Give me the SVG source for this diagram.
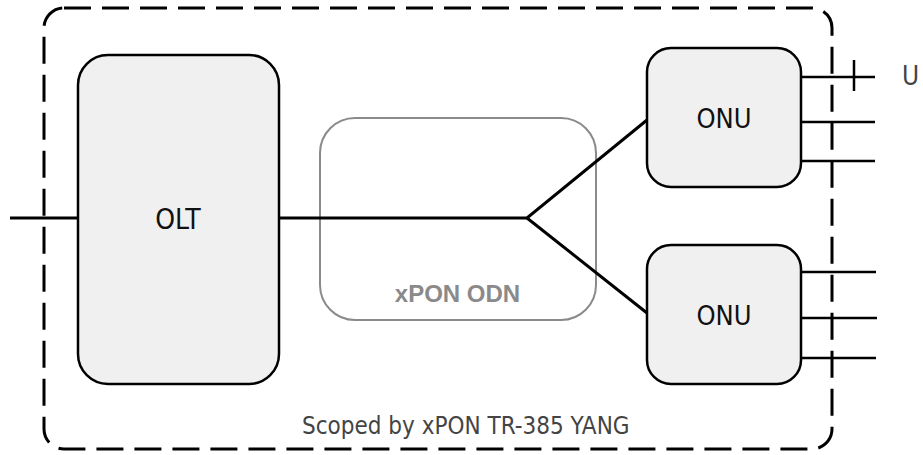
<svg xmlns="http://www.w3.org/2000/svg" width="923" height="455" viewBox="0 0 923 455">
<style>
.box{fill:#f0f0f0;stroke:#000;stroke-width:2.5}
.odn{fill:none;stroke:#8a8a8a;stroke-width:2}
.scope{fill:none;stroke:#000;stroke-width:3;stroke-dasharray:27 11}
.link{stroke:#000;stroke-width:3;fill:none}
.port{stroke:#000;stroke-width:2.5;fill:none}
.lbl{font-family:"DejaVu Sans Condensed","DejaVu Sans",sans-serif;font-size:27px;fill:#111;text-anchor:middle}
.odnlbl{font-family:"Liberation Sans",Arial,sans-serif;font-weight:bold;font-size:24px;fill:#8a8a8a;text-anchor:middle}
.note{font-family:"DejaVu Sans Condensed","DejaVu Sans",sans-serif;font-size:24px;fill:#444}
</style>
<rect id="scope" class="scope" x="44" y="8" width="788" height="441" rx="20"/>
<g id="odn">
<rect class="odn" x="320" y="118" width="276" height="202" rx="35"/>
<text class="odnlbl" x="457.5" y="302">xPON ODN</text>
</g>
<g id="connectors">
<line class="link" x1="10" y1="218" x2="78" y2="218"/>
<polyline class="link" points="279,218 527,218 647,120"/>
<line class="link" x1="527" y1="218" x2="647" y2="313"/>
<line class="port" x1="801" y1="77" x2="875" y2="77"/>
<line class="port" x1="854" y1="60" x2="854" y2="91"/>
<line class="port" x1="801" y1="122" x2="875" y2="122"/>
<line class="port" x1="801" y1="161" x2="875" y2="161"/>
<line class="port" x1="801" y1="272" x2="876" y2="272"/>
<line class="port" x1="801" y1="318" x2="877" y2="318"/>
<line class="port" x1="801" y1="358" x2="876" y2="358"/>
</g>
<g id="olt">
<rect class="box" x="78" y="55" width="201" height="329" rx="30"/>
<text class="lbl" x="178" y="229" style="font-size:28px">OLT</text>
</g>
<g id="onu1">
<rect class="box" x="647" y="48" width="154" height="139" rx="24"/>
<text class="lbl" x="724" y="128">ONU</text>
</g>
<g id="onu2">
<rect class="box" x="647" y="245" width="154" height="139" rx="24"/>
<text class="lbl" x="724" y="325">ONU</text>
</g>
<text class="note" x="302" y="434">Scoped by xPON TR-385 YANG</text>
<text class="note" x="902" y="85" style="font-size:26px">U</text>
</svg>
